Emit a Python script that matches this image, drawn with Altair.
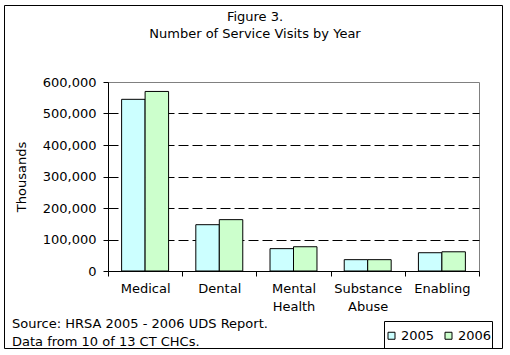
import altair as alt
import pandas as pd

categories = ["Medical", "Dental", "Mental Health", "Substance Abuse", "Enabling"]
years = ["2005", "2006"]
visits_2005 = [545000, 147000, 71000, 36000, 58000]
visits_2006 = [570000, 163000, 77000, 36000, 61000]
y_ticks = [0, 100000, 200000, 300000, 400000, 500000, 600000]
colors = ["#CCFFFF", "#CCFFCC"]
title_text = "Figure 3.\nNumber of Service Visits by Year"
source_text = "Source: HRSA 2005 - 2006 UDS Report.\nData from 10 of 13 CT CHCs."

rows = []
for c, a, b in zip(categories, visits_2005, visits_2006):
    rows.append({"category": c, "year": years[0], "visits": a})
    rows.append({"category": c, "year": years[1], "visits": b})
df = pd.DataFrame(rows)

FONT = "DejaVu Sans"
FS = 13

bars = alt.Chart(df).mark_bar(stroke="black", strokeWidth=1).encode(
    x=alt.X(
        "category:N",
        sort=categories,
        scale=alt.Scale(paddingInner=0, paddingOuter=0),
        axis=alt.Axis(
            title=None,
            labelAngle=0,
            tickBand="extent",
            tickSize=5,
            tickColor="black",
            domainColor="black",
            labelPadding=6,
            labelFontSize=FS,
            labelFont=FONT,
            labelColor="black",
            labelLineHeight=18,
            labelExpr="split(datum.label, ' ')",
            grid=False,
        ),
    ),
    xOffset=alt.XOffset(
        "year:N", sort=years, scale=alt.Scale(paddingInner=0, paddingOuter=0.58)
    ),
    y=alt.Y(
        "visits:Q",
        scale=alt.Scale(domain=[0, 600000], nice=False),
        axis=alt.Axis(
            title="Thousands",
            values=y_ticks,
            format=",d",
            tickSize=5,
            tickColor="black",
            domainColor="black",
            labelPadding=7,
            labelFontSize=FS,
            labelFont=FONT,
            labelColor="black",
            titleFont=FONT,
            titleFontSize=FS,
            titleFontWeight="normal",
            titleColor="black",
            titlePadding=14,
            grid=True,
            gridColor="black",
            gridDash=[10, 4],
            gridWidth=1,
            gridOpacity={"expr": "datum.value > 0 && datum.value < 600000 ? 1 : 0"},
        ),
    ),
    color=alt.Color(
        "year:N",
        sort=years,
        scale=alt.Scale(domain=years, range=colors),
        legend=alt.Legend(
            title=None,
            orient="none",
            direction="horizontal",
            legendX=277,
            legendY=247,
            symbolType="square",
            symbolSize=49,
            symbolStrokeColor="black",
            symbolStrokeWidth=1,
            labelFontSize=FS,
            labelFont=FONT,
            labelColor="black",
            labelOffset=3,
            columnPadding=7,
            padding=0,
        ),
    ),
)

one = pd.DataFrame({"k": [0]})

outer = alt.Chart(one).mark_rect(fill="transparent", stroke="black", strokeWidth=1).encode(
    x=alt.value(-103.5), x2=alt.value(394.5), y=alt.value(-76.5), y2=alt.value(266.5)
)
legend_box = alt.Chart(one).mark_rect(fill="transparent", stroke="black", strokeWidth=1).encode(
    x=alt.value(276.5), x2=alt.value(384.5), y=alt.value(239.5), y2=alt.value(266.5)
)
title = alt.Chart(one).mark_text(
    align="center", baseline="alphabetic", font=FONT, fontSize=FS, lineBreak="\n",
    lineHeight=17.5, color="black"
).encode(x=alt.value(147), y=alt.value(-61.5), text=alt.value(title_text))
source = alt.Chart(one).mark_text(
    align="left", baseline="alphabetic", font=FONT, fontSize=FS, lineBreak="\n",
    lineHeight=18.4, color="black"
).encode(x=alt.value(-96), y=alt.value(246), text=alt.value(source_text))

chart = alt.layer(outer, bars, legend_box, title, source).properties(
    width=371,
    height=189,
    autosize=alt.AutoSizeParams(type="none"),
    padding={"left": 108, "top": 82, "right": 31, "bottom": 84},
    background="white",
).configure_view(stroke="#808080", strokeWidth=1)

chart.save("out.html", embed_options={"renderer": "svg", "actions": False})
